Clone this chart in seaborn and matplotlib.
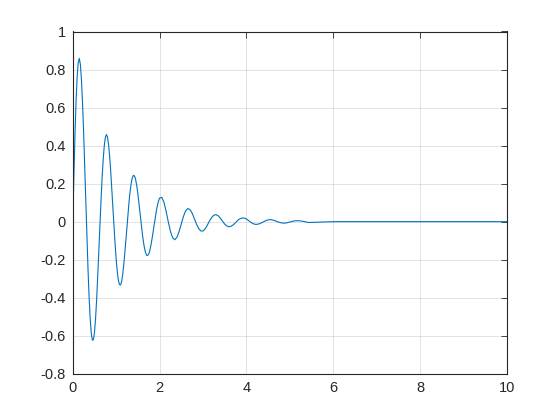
import matplotlib
matplotlib.use("Agg")
import matplotlib.pyplot as plt
import seaborn as sns
import pandas as pd

# Values (t in seconds, y amplitude)
t_values = [0.00, 0.05, 0.10, 0.15, 0.20, 0.25, 0.30, 0.35, 0.40, 0.45,
            0.50, 0.55, 0.60, 0.65, 0.70, 0.75, 0.80, 0.85, 0.90, 0.95,
            1.00, 1.05, 1.10, 1.15, 1.20, 1.25, 1.30, 1.35, 1.40, 1.45,
            1.50, 1.55, 1.60, 1.65, 1.70, 1.75, 1.80, 1.85, 1.90, 1.95,
            2.00, 2.05, 2.10, 2.15, 2.20, 2.25, 2.30, 2.35, 2.40, 2.45,
            2.50, 2.55, 2.60, 2.65, 2.70, 2.75, 2.80, 2.85, 2.90, 2.95,
            3.00, 3.05, 3.10, 3.15, 3.20, 3.25, 3.30, 3.35, 3.40, 3.45,
            3.50, 3.55, 3.60, 3.65, 3.70, 3.75, 3.80, 3.85, 3.90, 3.95,
            4.00, 4.05, 4.10, 4.15, 4.20, 4.25, 4.30, 4.35, 4.40, 4.45,
            4.50, 4.55, 4.60, 4.65, 4.70, 4.75, 4.80, 4.85, 4.90, 4.95,
            5.00, 5.05, 5.10, 5.15, 5.20, 5.25, 5.30, 5.35, 5.40, 5.45,
            5.50, 6.00, 7.00, 8.00, 9.00, 10.00]
y_values = [0.000, 0.456, 0.761, 0.859, 0.744, 0.466, 0.105, -0.247, -0.507, -0.623,
            -0.582, -0.407, -0.153, 0.112, 0.326, 0.443, 0.445, 0.341, 0.168, -0.029,
            -0.200, -0.308, -0.333, -0.277, -0.162, -0.019, 0.115, 0.208, 0.244, 0.219,
            0.145, 0.044, -0.058, -0.137, -0.176, -0.170, -0.124, -0.054, 0.022, 0.086,
            0.124, 0.128, 0.102, 0.055, -0.001, -0.051, -0.085, -0.095, -0.082, -0.051,
            -0.011, 0.028, 0.057, 0.069, 0.064, 0.045, 0.016, -0.013, -0.036, -0.049,
            -0.049, -0.038, -0.018, 0.004, 0.022, 0.034, 0.037, 0.031, 0.018, 0.002,
            -0.013, -0.023, -0.027, -0.024, -0.016, -0.005, 0.007, 0.015, 0.019, 0.019,
            0.014, 0.006, -0.003, -0.010, -0.014, -0.014, -0.011, -0.006, 0.000, 0.006,
            0.009, 0.011, 0.009, 0.006, 0.001, -0.003, -0.006, -0.008, -0.007, -0.005,
            -0.002, 0.001, 0.004, 0.005, 0.005, 0.004, 0.002, 0.000, -0.003, -0.004,
            -0.004, 0.000, 0.000, 0.000, 0.000, 0.000]

# Extra readings between the samples above, where the curve bends sharply
t_mid = [0.025, 0.075, 0.125, 0.175, 0.225, 0.275, 0.325, 0.375, 0.425, 0.475,
         0.525, 0.575, 0.625, 0.675, 0.725, 0.775, 0.825, 0.875, 0.925, 0.975,
         1.025, 1.075, 1.125, 1.175, 1.225, 1.275, 1.325, 1.375, 1.425, 1.475,
         1.525, 1.575, 1.625, 1.675, 1.725, 1.775, 1.825, 1.875, 1.925, 1.975]
y_mid = [0.241, 0.632, 0.837, 0.826, 0.621, 0.290, -0.078, -0.393, -0.585, -0.621,
         -0.508, -0.286, -0.018, 0.229, 0.399, 0.458, 0.404, 0.260, 0.069, -0.120,
         -0.264, -0.331, -0.315, -0.225, -0.091, 0.051, 0.168, 0.234, 0.239, 0.187,
         0.096, -0.009, -0.102, -0.162, -0.178, -0.151, -0.091, -0.015, 0.057, 0.109]

x_ticks = [0, 2, 4, 6, 8, 10]
x_tick_labels = ["0", "2", "4", "6", "8", "10"]
y_ticks = [-0.8, -0.6, -0.4, -0.2, 0, 0.2, 0.4, 0.6, 0.8, 1]
y_tick_labels = ["-0.8", "-0.6", "-0.4", "-0.2", "0", "0.2", "0.4", "0.6", "0.8", "1"]

df = pd.concat([pd.DataFrame({"t": t_values, "y": y_values}),
                pd.DataFrame({"t": t_mid, "y": y_mid})]).sort_values("t").reset_index(drop=True)

sns.set_style("white")
plt.rcParams["font.family"] = ["Liberation Sans", "DejaVu Sans"]

fig = plt.figure(figsize=(5.6, 4.2), dpi=100)
ax = fig.add_axes([0.13, 0.11, 0.775, 0.815])

sns.lineplot(data=df, x="t", y="y", ax=ax, color="#0072BD", linewidth=0.8,
             sort=False, estimator=None)

ax.set_xlim(0, 10)
ax.set_ylim(-0.8, 1)
ax.set_xticks(x_ticks)
ax.set_xticklabels(x_tick_labels)
ax.set_yticks(y_ticks)
ax.set_yticklabels(y_tick_labels)
ax.set_xlabel("")
ax.set_ylabel("")

ax.grid(True, color="#262626", alpha=0.15, linewidth=0.6)
ax.set_axisbelow(True)
for s in ax.spines.values():
    s.set_visible(True)
    s.set_color("#262626")
    s.set_linewidth(0.8)
ax.tick_params(axis="both", which="both", direction="in", length=4, width=0.6,
               colors="#262626", labelsize=10.5, top=True, right=True, pad=5)
for lab in ax.get_xticklabels() + ax.get_yticklabels():
    lab.set_color("#262626")

fig.savefig("out.png", dpi=100, facecolor="white")
